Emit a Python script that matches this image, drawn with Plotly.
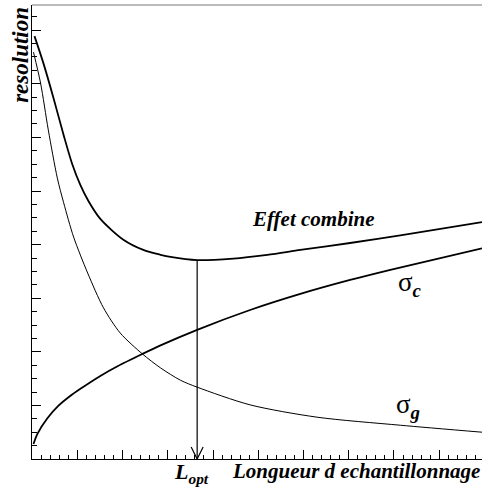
import plotly.graph_objects as go

# ---- data (axis units) ----
combined_x = [0.055, 0.25, 0.47, 0.70, 0.89, 1.07, 1.25, 1.51, 2.02, 2.46, 2.84, 3.06, 3.65, 4.45, 5.20, 5.93, 7.03, 8.14, 9.945]
combined_y = [7.89, 7.39, 6.75, 6.04, 5.50, 5.11, 4.81, 4.48, 4.09, 3.90, 3.81, 3.77, 3.71, 3.74, 3.81, 3.90, 4.03, 4.17, 4.42]

sigma_g_x = [0.033, 0.19, 0.36, 0.56, 0.70, 0.92, 1.23, 1.58, 1.95, 2.44, 2.84, 3.28, 3.65, 4.82, 6.30, 8.14, 9.945]
sigma_g_y = [7.59, 7.01, 6.14, 5.24, 4.78, 4.14, 3.47, 2.82, 2.35, 1.96, 1.70, 1.47, 1.34, 1.01, 0.78, 0.63, 0.50]

sigma_c_x = [0.033, 0.12, 0.34, 0.58, 0.85, 1.07, 1.51, 1.89, 2.44, 2.84, 3.65, 4.82, 5.93, 7.03, 7.92, 9.945]
sigma_c_y = [0.28, 0.47, 0.76, 0.99, 1.18, 1.31, 1.55, 1.73, 1.96, 2.12, 2.41, 2.78, 3.08, 3.34, 3.53, 3.93]

L_opt = 3.65
L_opt_res = 3.71

x_range = [0, 9.945]
y_range = [0, 8.47]

SERIF = "Liberation Serif, Times New Roman, serif"

fig = go.Figure()
fig.add_trace(go.Scatter(x=combined_x, y=combined_y, mode="lines",
                         line=dict(color="black", width=1.8, shape="spline", smoothing=0.8),
                         hoverinfo="skip", showlegend=False))
fig.add_trace(go.Scatter(x=sigma_c_x, y=sigma_c_y, mode="lines",
                         line=dict(color="black", width=1.8, shape="spline", smoothing=0.8),
                         hoverinfo="skip", showlegend=False))
fig.add_trace(go.Scatter(x=sigma_g_x, y=sigma_g_y, mode="lines",
                         line=dict(color="black", width=1.0, shape="spline", smoothing=0.8),
                         hoverinfo="skip", showlegend=False))

# arrow at L_opt (shaft + open V head)
hw = 6 / 45.3   # head half-width in x units
hh = 12 / 53.6  # head height in y units
fig.add_trace(go.Scatter(x=[L_opt, L_opt, None, L_opt - hw, L_opt, L_opt + hw],
                         y=[L_opt_res, 0, None, hh, 0, hh], mode="lines",
                         line=dict(color="black", width=1.2),
                         hoverinfo="skip", showlegend=False, cliponaxis=False))

fig.update_layout(
    width=482, height=489,
    margin=dict(l=31.5, r=0, t=5, b=30, pad=0),
    paper_bgcolor="white", plot_bgcolor="white",
    xaxis=dict(range=x_range, showgrid=False, zeroline=False, showticklabels=False,
               ticks="inside", ticklen=9, tickcolor="black", tickwidth=1, dtick=1, tick0=0,
               minor=dict(ticks="inside", ticklen=4.5, tickcolor="black", dtick=0.2, showgrid=False),
               showline=True, linecolor="black", linewidth=1),
    yaxis=dict(range=y_range, showgrid=False, zeroline=False, showticklabels=False,
               ticks="inside", ticklen=9, tickcolor="black", tickwidth=1, dtick=1, tick0=0,
               minor=dict(ticks="inside", ticklen=4.5, tickcolor="black", dtick=0.25, showgrid=False),
               showline=True, linecolor="black", linewidth=1),
    shapes=[dict(type="line", xref="paper", yref="paper", x0=0, x1=1, y0=1, y1=1,
                 line=dict(color="#777777", width=1))],
)

ann_font = dict(family=SERIF, size=21, color="black")
fig.add_annotation(text="<b><i>resolution</i></b>", xref="paper", yref="paper",
                   x=-0.027, y=1.0, xanchor="center", yanchor="top", textangle=-90,
                   showarrow=False, font=dict(family=SERIF, size=23, color="black"))
fig.add_annotation(text="<b><i>Longueur d echantillonnage</i></b>", xref="paper", yref="paper",
                   x=1.0, y=-12 / 454, xanchor="right", yanchor="middle",
                   showarrow=False, font=ann_font)
fig.add_annotation(text="<b><i>L</i></b><sub><b><i>opt</i></b></sub>", xref="x", yref="paper",
                   x=L_opt - 0.13, y=-14 / 454, xanchor="center", yanchor="middle",
                   showarrow=False, font=dict(family=SERIF, size=22, color="black"))
fig.add_annotation(text="<b><i>Effet combine</i></b>", xref="x", yref="y",
                   x=6.21, y=4.48, xanchor="center", yanchor="middle",
                   showarrow=False, font=ann_font)
fig.add_annotation(text="σ<sub><b><i>c</i></b></sub>", xref="x", yref="y",
                   x=8.36, y=3.27, xanchor="center", yanchor="middle",
                   showarrow=False, font=dict(family=SERIF, size=27, color="black"))
fig.add_annotation(text="σ<sub><b><i>g</i></b></sub>", xref="x", yref="y",
                   x=8.31, y=0.98, xanchor="center", yanchor="middle",
                   showarrow=False, font=dict(family=SERIF, size=27, color="black"))

fig.write_html("out.html", config={"displayModeBar": False},
               post_script="document.body.style.margin='0';document.body.style.overflow='hidden';")
